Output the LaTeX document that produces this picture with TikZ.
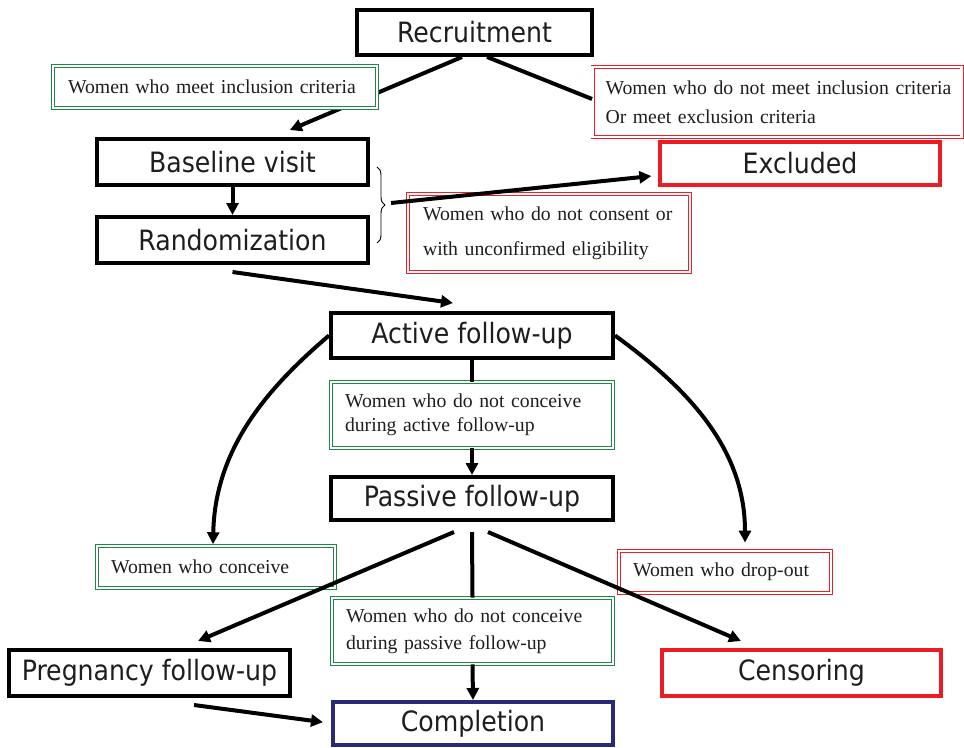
\documentclass[tikz,border=0pt]{standalone}
\usepackage{fontspec}
\setmainfont{Liberation Serif}
\newfontfamily\boxfont{DejaVu Sans Condensed}
\usetikzlibrary{arrows.meta,decorations.pathreplacing,calc}
\definecolor{lgreen}{RGB}{30,135,70}
\definecolor{lred}{RGB}{236,32,40}
\definecolor{bred}{RGB}{237,28,36}
\definecolor{navy}{RGB}{40,42,120}
\definecolor{txt}{RGB}{30,30,30}
\newcommand\labfont[1]{\fontsize{14.8}{#1}\selectfont\rmfamily}
\begin{document}
\begin{tikzpicture}[x=0.75pt,y=-0.75pt,
  mainbox/.style={draw=black,line width=3pt,fill=white,text=txt,inner sep=0pt,
    font=\boxfont\fontsize{21}{25}\selectfont},
  labbox/.style={draw=#1,line width=0.7pt,double=white,double distance=1.6pt,fill=white,
    text=txt,inner xsep=11.25pt,inner ysep=0pt,align=left},
  conn/.style={line width=3pt,draw=black},
  arr/.style={conn,-{Triangle[length=9pt,width=9pt]}},
]
\useasboundingbox (0,0) rectangle (964,747);

% main boxes
\node[mainbox,minimum width=235*0.75pt,minimum height=45*0.75pt] (rec) at (474.5,32.5) {Recruitment};
\node[mainbox,minimum width=271*0.75pt,minimum height=46*0.75pt] (base) at (232.5,162) {Baseline visit};
\node[mainbox,minimum width=271*0.75pt,minimum height=46*0.75pt] (rand) at (232.5,240) {Randomization};
\node[mainbox,draw=bred,minimum width=280*0.75pt,minimum height=43*0.75pt] (excl) at (800,163.5) {Excluded};
\node[mainbox,minimum width=282*0.75pt,minimum height=45*0.75pt] (act) at (472,335.5) {Active follow-up};
\node[mainbox,minimum width=282*0.75pt,minimum height=43*0.75pt] (pas) at (472,498.5) {Passive follow-up};
\node[mainbox,minimum width=281*0.75pt,minimum height=46*0.75pt] (preg) at (149.5,673) {Pregnancy follow-up};
\node[mainbox,draw=bred,minimum width=279*0.75pt,minimum height=46*0.75pt] (cens) at (801.5,673) {Censoring};
\node[mainbox,draw=navy,minimum width=280*0.75pt,minimum height=43*0.75pt] (comp) at (473,723.5) {Completion};

% label boxes
\node[labbox=lgreen,font=\labfont{18},text width=294*0.75pt,minimum height=42*0.75pt] (lab1) at (215,87) {\mbox{Women who meet inclusion criteria}};
\node[labbox=lred,font=\labfont{21.75},text width=343*0.75pt,minimum height=70*0.75pt,inner xsep=9.75pt] (lab2) at (777,102) {\mbox{Women who do not meet inclusion criteria}\\\mbox{Or meet exclusion criteria}};
\node[labbox=lred,font=\labfont{26.25},text width=252*0.75pt,minimum height=78*0.75pt] (lab3) at (549,233) {\mbox{Women who do not consent or}\\\mbox{with unconfirmed eligibility}};
\node[labbox=lgreen,font=\labfont{18},text width=254*0.75pt,minimum height=66*0.75pt,inner xsep=10.5pt] (lab4) at (472,415) {\mbox{Women who do not conceive}\\\mbox{during active follow-up}};
\node[labbox=lgreen,font=\labfont{18},text width=210*0.75pt,minimum height=42*0.75pt,inner xsep=10.5pt] (lab5) at (216,567) {\mbox{Women who conceive}};
\node[labbox=lred,font=\labfont{18},text width=184*0.75pt,minimum height=42*0.75pt,inner xsep=10.5pt] (lab6) at (725,572) {\mbox{Women who drop-out}};
\node[labbox=lgreen,font=\labfont{20.25},text width=253*0.75pt,minimum height=66*0.75pt,inner xsep=10.5pt] (lab7) at (472.5,631) {\mbox{Women who do not conceive}\\\mbox{during passive follow-up}};

% connector Recruitment -> Baseline (label on top)
\draw[arr] ([xshift=-9.4pt]rec.south) -- ([xshift=43pt,yshift=5.25pt]base.north);
\draw[conn] ([xshift=9.4pt]rec.south) -- ([yshift=2.25pt]lab2.west);

% redraw lab1 over the connector
\node[labbox=lgreen,font=\labfont{18},text width=294*0.75pt,minimum height=42*0.75pt] at (lab1) {\mbox{Women who meet inclusion criteria}};

% baseline -> randomization
\draw[arr] (base.south) -- (rand.north);

% brace
\draw[line width=0.7pt,decorate,decoration={brace,amplitude=6pt}] (377,167) -- (377,243);
\coordinate (bt) at (391,203);
\draw[arr] (bt) -- ([yshift=-9.4pt,xshift=-5pt]excl.west);

% randomization -> active
\draw[arr] ([yshift=-5.25pt]rand.south) -- ([xshift=-14.25pt,yshift=6pt]act.north);

% active -> lab4 -> passive
\draw[conn] (act.south) -- (lab4.north);
\draw[arr] (lab4.south) -- (pas.north);

% curves
\draw[arr] (act.west) .. controls (265,390) and (215,450) .. ([xshift=-2.25pt,yshift=1pt]lab5.north);
\draw[arr] (act.east) .. controls (690,390) and (745,450) .. ([xshift=15pt,yshift=6pt]lab6.north);

% passive -> outcomes
\draw[arr] ([xshift=-13.5pt,yshift=-7.5pt]pas.south) -- ([xshift=36.4pt,yshift=5.25pt]preg.north);
\draw[conn] ([yshift=-7.5pt]pas.south) -- (lab7.north);
\draw[arr] ([xshift=12pt,yshift=-7.5pt]pas.south) -- ([xshift=-45.4pt,yshift=5.25pt]cens.north);
\draw[arr] (lab7.south) -- (comp.north);
\draw[arr] ([xshift=33.4pt,yshift=-5.25pt]preg.south) -- ([xshift=-6pt,yshift=1pt]comp.west);
\end{tikzpicture}
\end{document}
